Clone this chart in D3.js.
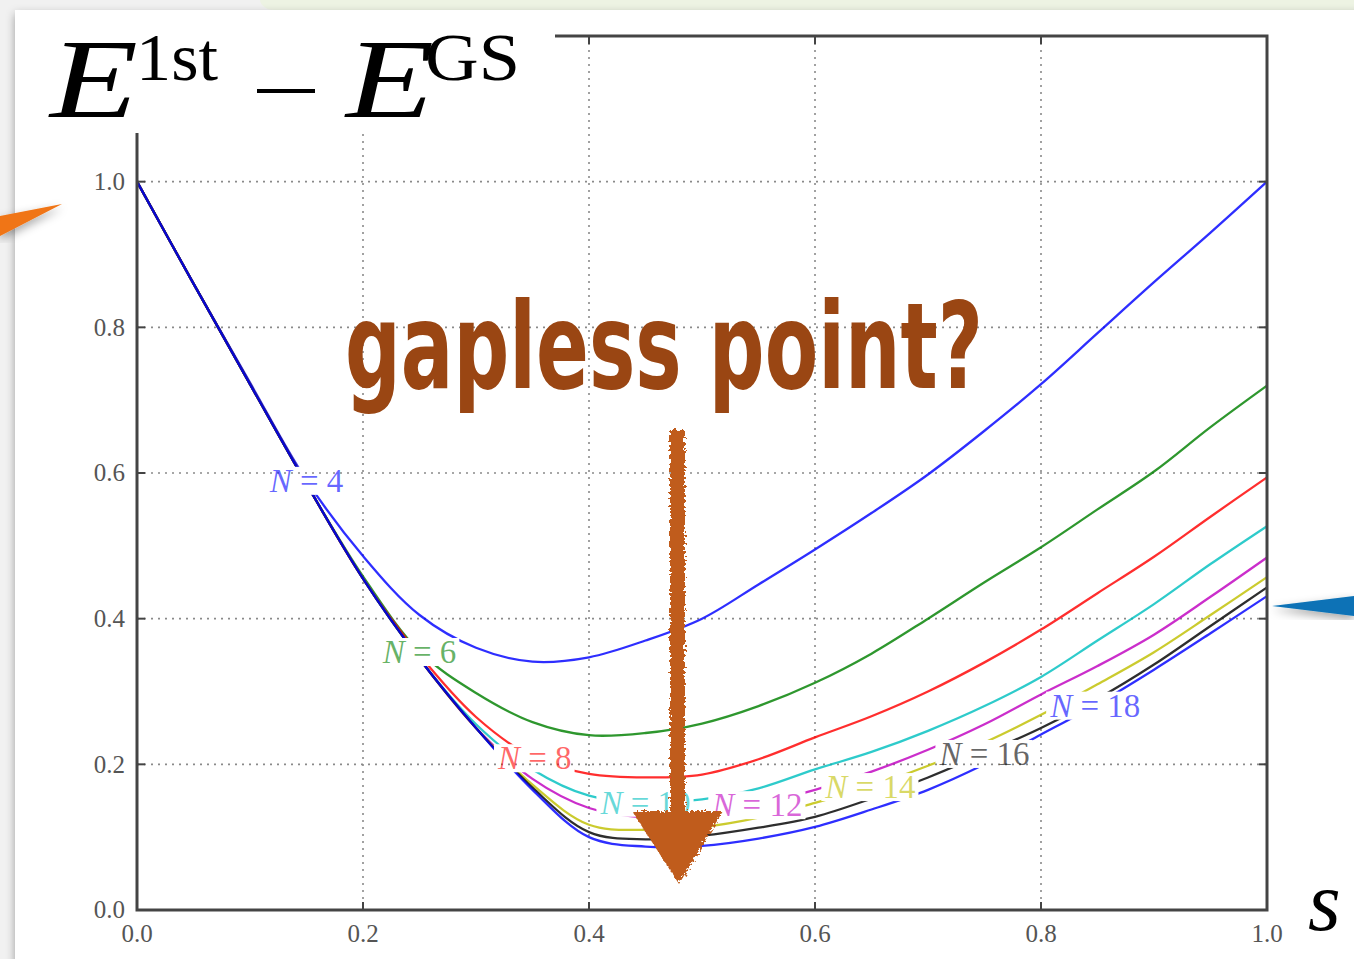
<!DOCTYPE html>
<meta charset="utf-8">
<head>
  <style>
    html, body { margin: 0; padding: 0; background: #fff; }
    svg { display: block; }
    .tick-label { font-family: "Liberation Serif", "DejaVu Serif", serif; font-size: 25px; fill: #555; }
    .curve-label { font-family: "Liberation Serif", "DejaVu Serif", serif; font-size: 33px; }
  </style>
</head>
<script src="https://cdn.jsdelivr.net/npm/d3@7"></script>
<body>
<script>
  // gap E1st - EGS vs s
  var sGrid = [0, 0.05, 0.1, 0.15, 0.2, 0.25, 0.3, 0.35, 0.4, 0.45, 0.5, 0.55, 0.6, 0.65, 0.7, 0.75, 0.8, 0.85, 0.9, 0.95, 1.0];
  var gapN4  = [1.0, 0.86, 0.724, 0.59, 0.486, 0.405, 0.36, 0.341, 0.347, 0.37, 0.40, 0.447, 0.495, 0.545, 0.598, 0.658, 0.722, 0.792, 0.862, 0.93, 1.0];
  var gapN6  = [1.0, 0.86, 0.722, 0.585, 0.458, 0.355, 0.298, 0.258, 0.24, 0.243, 0.256, 0.28, 0.312, 0.352, 0.40, 0.45, 0.498, 0.55, 0.602, 0.663, 0.72];
  var gapN8  = [1.0, 0.86, 0.722, 0.585, 0.455, 0.35, 0.265, 0.21, 0.187, 0.182, 0.186, 0.207, 0.237, 0.266, 0.30, 0.34, 0.385, 0.435, 0.485, 0.54, 0.594];
  var gapN10 = [1.0, 0.86, 0.722, 0.585, 0.455, 0.345, 0.255, 0.193, 0.157, 0.148, 0.152, 0.167, 0.193, 0.217, 0.246, 0.28, 0.32, 0.37, 0.42, 0.475, 0.527];
  var gapN12 = [1.0, 0.86, 0.722, 0.585, 0.455, 0.345, 0.25, 0.18, 0.14, 0.127, 0.13, 0.145, 0.165, 0.19, 0.22, 0.255, 0.296, 0.335, 0.378, 0.43, 0.484];
  var gapN14 = [1.0, 0.86, 0.722, 0.585, 0.455, 0.345, 0.25, 0.172, 0.117, 0.11, 0.114, 0.127, 0.147, 0.17, 0.198, 0.23, 0.268, 0.31, 0.354, 0.405, 0.457];
  var gapN16 = [1.0, 0.86, 0.722, 0.585, 0.455, 0.345, 0.25, 0.168, 0.107, 0.097, 0.102, 0.113, 0.128, 0.153, 0.182, 0.215, 0.25, 0.29, 0.337, 0.39, 0.443];
  var gapN18 = [1.0, 0.86, 0.722, 0.585, 0.455, 0.345, 0.25, 0.165, 0.10, 0.087, 0.088, 0.098, 0.114, 0.138, 0.165, 0.20, 0.241, 0.283, 0.33, 0.38, 0.431];

  var seriesN = [4, 6, 8, 10, 12, 14, 16, 18];
  var seriesGaps = [gapN4, gapN6, gapN8, gapN10, gapN12, gapN14, gapN16, gapN18];
  var seriesColor = ["#0000ff", "#008000", "#ff0000", "#00bfbf", "#bf00bf", "#bfbf00", "#000000", "#0000ff"];
  var labelS = [0.15, 0.25, 0.352, 0.45, 0.549, 0.649, 0.75, 0.848]; // where each inline label sits on its curve

  var xTicks = [0.0, 0.2, 0.4, 0.6, 0.8, 1.0];
  var yTicks = [0.0, 0.2, 0.4, 0.6, 0.8, 1.0];

  var W = 1354, H = 959;
  var svg = d3.select("body").append("svg").attr("width", W).attr("height", H);
  var defs = svg.append("defs");

  // slide-ish background
  svg.append("rect").attr("width", W).attr("height", H).attr("fill", "#f1f1f1");
  svg.append("rect").attr("x", 260).attr("y", -12).attr("width", W).attr("height", 22).attr("rx", 14).attr("fill", "#edf3e3");
  var sh = defs.append("filter").attr("id", "shadow").attr("x", -0.2).attr("y", -0.2).attr("width", 1.4).attr("height", 1.4);
  sh.append("feDropShadow").attr("dx", 0).attr("dy", 4).attr("stdDeviation", 5).attr("flood-color", "#000").attr("flood-opacity", 0.35);
  svg.append("rect").attr("x", 15).attr("y", 10).attr("width", W).attr("height", H).attr("fill", "#fff")
    .attr("filter", "url(#shadow)");

  var x = d3.scaleLinear().domain([0, 1]).range([137, 1267]);
  var y = d3.scaleLinear().domain([0, 1.2]).range([910, 36]);

  // dotted grid
  var grid = svg.append("g").attr("stroke", "#8a8a8a").attr("stroke-width", 1.6).attr("stroke-dasharray", "2,5");
  grid.selectAll(".gx").data(xTicks.slice(1, -1)).enter().append("line")
    .attr("x1", d => x(d)).attr("x2", d => x(d)).attr("y1", y(1.2)).attr("y2", y(0));
  grid.selectAll(".gy").data(yTicks.slice(1)).enter().append("line")
    .attr("x1", x(0)).attr("x2", x(1)).attr("y1", d => y(d)).attr("y2", d => y(d));

  var line = d3.line().x(d => x(d[0])).y(d => y(d[1])).curve(d3.curveCatmullRom.alpha(0.5));

  // curves, cut where the inline labels sit
  var curveG = svg.append("g").attr("mask", "url(#labelcut)");
  var labelG = svg.append("g");
  var cut = defs.append("mask").attr("id", "labelcut").attr("maskUnits", "userSpaceOnUse")
    .attr("x", 0).attr("y", 0).attr("width", W).attr("height", H);
  cut.append("rect").attr("width", W).attr("height", H).attr("fill", "#fff");

  seriesN.forEach(function (n, i) {
    var pts = sGrid.map((s, j) => [s, seriesGaps[i][j]]);
    curveG.append("path").attr("d", line(pts)).attr("fill", "none")
      .attr("stroke", seriesColor[i]).attr("stroke-opacity", 0.82).attr("stroke-width", 2.3);

    var ly = d3.scaleLinear().domain(sGrid).range(seriesGaps[i])(labelS[i]);
    var t = labelG.append("text").attr("class", "curve-label")
      .attr("x", x(labelS[i])).attr("y", y(ly)).attr("dy", "0.35em")
      .attr("text-anchor", "middle").attr("fill", seriesColor[i]).attr("fill-opacity", 0.6);
    t.append("tspan").attr("font-style", "italic").text("N");
    t.append("tspan").text(" = " + n);
    var bb = t.node().getBBox();
    cut.append("rect").attr("x", bb.x - 3).attr("y", bb.y + 4).attr("width", bb.width + 6).attr("height", bb.height - 8).attr("fill", "#000");
  });

  // frame and inward ticks
  var frame = svg.append("g").attr("stroke", "#444").attr("fill", "none");
  frame.append("rect").attr("x", x(0)).attr("y", y(1.2)).attr("width", x(1) - x(0)).attr("height", y(0) - y(1.2))
    .attr("stroke-width", 3);
  xTicks.forEach(function (d) {
    frame.append("line").attr("x1", x(d)).attr("x2", x(d)).attr("y1", y(0)).attr("y2", y(0) - 8).attr("stroke-width", 2);
    frame.append("line").attr("x1", x(d)).attr("x2", x(d)).attr("y1", y(1.2)).attr("y2", y(1.2) + 8).attr("stroke-width", 2);
  });
  yTicks.forEach(function (d) {
    frame.append("line").attr("x1", x(0)).attr("x2", x(0) + 8).attr("y1", y(d)).attr("y2", y(d)).attr("stroke-width", 2);
    frame.append("line").attr("x1", x(1)).attr("x2", x(1) - 8).attr("y1", y(d)).attr("y2", y(d)).attr("stroke-width", 2);
  });

  // tick labels
  svg.selectAll(".xl").data(xTicks).enter().append("text").attr("class", "tick-label")
    .attr("x", d => x(d)).attr("y", 942).attr("text-anchor", "middle").text(d => d.toFixed(1));
  svg.selectAll(".yl").data(yTicks).enter().append("text").attr("class", "tick-label")
    .attr("x", 125).attr("y", d => y(d)).attr("dy", "0.33em").attr("text-anchor", "end").text(d => d.toFixed(1));

  // title box over the top-left of the plot
  svg.append("rect").attr("x", 15).attr("y", 10).attr("width", 540).attr("height", 123).attr("fill", "#fff");
  var serif = "'Liberation Serif', 'DejaVu Serif', serif";
  function tx(str, px, py, size, italic, len) {
    var t = svg.append("text").attr("x", px).attr("y", py).attr("font-family", serif).attr("font-size", size)
      .attr("font-style", italic ? "italic" : "normal").attr("fill", "#000").text(str);
    if (len) t.attr("textLength", len).attr("lengthAdjust", "spacingAndGlyphs");
  }
  tx("E", 50, 117, 112, true, 88);
  tx("1st", 136, 80, 68, false, 82);
  svg.append("line").attr("x1", 257).attr("x2", 315).attr("y1", 91).attr("y2", 91).attr("stroke", "#000").attr("stroke-width", 4);
  tx("E", 346, 117, 112, true, 88);
  tx("GS", 425, 80, 68, false, 95);
  tx("s", 1308, 930, 84, true);

  // side pointers
  svg.append("polygon").attr("points", "0,216 62,204 0,236").attr("fill", "#f07414").attr("filter", "url(#shadow)");
  svg.append("polygon").attr("points", "1354,596 1272,606 1354,616").attr("fill", "#0a72b6").attr("filter", "url(#shadow)");

  // hand-drawn annotation
  var rough = defs.append("filter").attr("id", "rough").attr("x", -0.3).attr("y", -0.1).attr("width", 1.6).attr("height", 1.2);
  rough.append("feTurbulence").attr("type", "fractalNoise").attr("baseFrequency", 0.35).attr("numOctaves", 2).attr("seed", 3).attr("result", "n");
  rough.append("feDisplacementMap").attr("in", "SourceGraphic").attr("in2", "n").attr("scale", 7);

  var arrow = svg.append("g").attr("filter", "url(#rough)").attr("fill", "#c05c1b");
  arrow.append("rect").attr("x", 670).attr("y", 430).attr("width", 15).attr("height", 400);
  arrow.append("polygon").attr("points", "632,811 723,811 679,884");

  svg.append("text").attr("x", 345).attr("y", 388)
    .attr("font-family", "'DejaVu Sans', sans-serif").attr("font-weight", "bold").attr("font-size", 120)
    .attr("textLength", 638).attr("lengthAdjust", "spacingAndGlyphs")
    .attr("fill", "#9a4613").text("gapless point?");
</script>
</body>
